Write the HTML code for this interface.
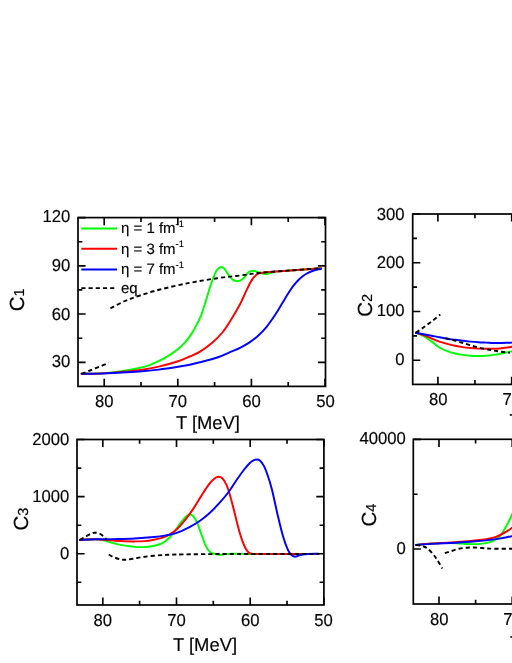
<!DOCTYPE html>
<html><head><meta charset="utf-8"><title>fig</title>
<style>
html,body{margin:0;padding:0;background:#fff;}
body{width:512px;height:663px;overflow:hidden;position:relative;}
svg{position:absolute;left:0;top:0;}
text{font-family:"Liberation Sans",sans-serif;fill:#000;text-rendering:geometricPrecision;filter:grayscale(1);stroke:#000;stroke-width:0.15px;}
.tl{font-size:17.3px;}
.ti{font-size:18.4px;}
.lg{font-size:15px;}
</style></head><body>
<svg width="512" height="663" viewBox="0 0 512 663">
<rect x="0" y="0" width="512" height="663" fill="#fff"/>
<path d="M81.60,373.80 C84.67,373.75 93.68,373.88 100.00,373.50 C106.32,373.12 112.98,372.42 119.50,371.50 C126.02,370.58 134.22,369.03 139.10,368.00 C143.98,366.97 145.55,366.43 148.80,365.30 C152.05,364.17 155.33,362.77 158.60,361.20 C161.87,359.63 165.15,357.92 168.40,355.90 C171.65,353.88 175.18,351.53 178.10,349.10 C181.02,346.67 183.62,343.92 185.90,341.30 C188.18,338.68 190.00,336.18 191.80,333.40 C193.60,330.62 195.17,327.57 196.70,324.60 C198.23,321.63 199.38,319.83 201.00,315.60 C202.62,311.37 204.82,304.22 206.40,299.20 C207.98,294.18 209.13,289.60 210.50,285.50 C211.87,281.40 213.47,277.23 214.60,274.60 C215.73,271.97 216.25,270.97 217.30,269.70 C218.35,268.43 219.75,267.18 220.90,267.00 C222.05,266.82 222.97,267.33 224.20,268.60 C225.43,269.87 226.93,272.78 228.30,274.60 C229.67,276.42 230.95,278.40 232.40,279.50 C233.85,280.60 235.40,281.20 237.00,281.20 C238.60,281.20 240.50,280.50 242.00,279.50 C243.50,278.50 244.87,276.42 246.00,275.20 C247.13,273.98 247.60,272.93 248.80,272.20 C250.00,271.47 251.88,270.88 253.20,270.80 C254.52,270.72 255.38,271.27 256.70,271.70 C258.02,272.13 259.48,273.02 261.10,273.40 C262.72,273.78 264.65,274.12 266.40,274.00 C268.15,273.88 269.85,273.13 271.60,272.70 C273.35,272.27 274.67,271.70 276.90,271.40 C279.13,271.10 281.15,271.17 285.00,270.90 C288.85,270.63 294.00,270.23 300.00,269.80 C306.00,269.37 317.50,268.55 321.00,268.30" fill="none" stroke="#00ff00" stroke-width="1.95" stroke-linecap="round"/>
<path d="M81.60,373.80 C84.67,373.75 93.68,373.78 100.00,373.50 C106.32,373.22 112.98,372.65 119.50,372.10 C126.02,371.55 132.58,371.12 139.10,370.20 C145.62,369.28 152.10,368.10 158.60,366.60 C165.10,365.10 172.90,362.88 178.10,361.20 C183.30,359.52 186.15,358.10 189.80,356.50 C193.45,354.90 196.32,353.85 200.00,351.60 C203.68,349.35 208.10,346.27 211.90,343.00 C215.70,339.73 219.62,335.88 222.80,332.00 C225.98,328.12 228.13,324.33 231.00,319.70 C233.87,315.07 237.62,308.68 240.00,304.20 C242.38,299.72 243.55,296.47 245.30,292.80 C247.05,289.13 249.03,284.83 250.50,282.20 C251.97,279.57 252.92,278.37 254.10,277.00 C255.28,275.63 256.43,274.70 257.60,274.00 C258.77,273.30 259.70,273.08 261.10,272.80 C262.50,272.52 262.85,272.56 266.00,272.30 C269.15,272.04 274.33,271.67 280.00,271.25 C285.67,270.83 293.17,270.29 300.00,269.80 C306.83,269.31 317.50,268.55 321.00,268.30" fill="none" stroke="#ff0000" stroke-width="1.95" stroke-linecap="round"/>
<path d="M81.60,373.80 C84.67,373.77 93.68,373.78 100.00,373.60 C106.32,373.42 112.98,373.05 119.50,372.70 C126.02,372.35 132.58,372.02 139.10,371.50 C145.62,370.98 152.10,370.38 158.60,369.60 C165.10,368.82 172.90,367.62 178.10,366.80 C183.30,365.98 186.15,365.45 189.80,364.70 C193.45,363.95 195.42,363.50 200.00,362.30 C204.58,361.10 212.13,359.27 217.30,357.50 C222.47,355.73 227.22,353.32 231.00,351.70 C234.78,350.08 237.03,349.27 240.00,347.80 C242.97,346.33 245.87,344.83 248.80,342.90 C251.73,340.97 254.67,338.83 257.60,336.20 C260.53,333.57 263.47,330.67 266.40,327.10 C269.33,323.53 272.57,318.77 275.20,314.80 C277.83,310.83 280.15,306.67 282.20,303.30 C284.25,299.93 285.75,297.38 287.50,294.60 C289.25,291.82 290.95,288.95 292.70,286.60 C294.45,284.25 296.23,282.32 298.00,280.50 C299.77,278.68 301.53,277.02 303.30,275.70 C305.07,274.38 306.85,273.47 308.60,272.60 C310.35,271.73 312.20,271.03 313.80,270.50 C315.40,269.97 316.97,269.67 318.20,269.40 C319.43,269.13 320.70,268.98 321.20,268.90" fill="none" stroke="#0000ff" stroke-width="1.95" stroke-linecap="round"/>
<path d="M81.60,373.80 C83.00,373.25 86.93,371.72 90.00,370.50 C93.07,369.28 96.92,367.78 100.00,366.50 C103.08,365.22 107.08,363.42 108.50,362.80" fill="none" stroke="#000000" stroke-width="1.9" stroke-dasharray="4.2,3"/>
<path d="M110.40,308.20 C112.83,307.00 120.07,303.12 125.00,301.00 C129.93,298.88 134.17,297.42 140.00,295.50 C145.83,293.58 151.67,291.62 160.00,289.50 C168.33,287.38 180.45,284.68 190.00,282.80 C199.55,280.92 208.97,279.42 217.30,278.20 C225.63,276.98 232.70,276.42 240.00,275.50 C247.30,274.58 252.77,273.53 261.10,272.70 C269.43,271.87 280.02,271.25 290.00,270.50 C299.98,269.75 315.83,268.58 321.00,268.20" fill="none" stroke="#000000" stroke-width="1.9" stroke-dasharray="4.2,3"/>
<rect x="78.00" y="217.60" width="247.50" height="168.80" fill="none" stroke="#000" stroke-width="1.7"/>
<path d="M104.20,386.40v-7.60 M104.20,217.60v7.60 M177.80,386.40v-7.60 M177.80,217.60v7.60 M251.40,386.40v-7.60 M251.40,217.60v7.60 M325.00,386.40v-7.60 M325.00,217.60v7.60 M141.00,386.40v-4.30 M141.00,217.60v4.30 M214.60,386.40v-4.30 M214.60,217.60v4.30 M288.20,386.40v-4.30 M288.20,217.60v4.30 M78.00,217.60h7.60 M325.50,217.60h-7.60 M78.00,265.80h7.60 M325.50,265.80h-7.60 M78.00,314.00h7.60 M325.50,314.00h-7.60 M78.00,362.30h7.60 M325.50,362.30h-7.60 M78.00,241.70h4.30 M325.50,241.70h-4.30 M78.00,289.90h4.30 M325.50,289.90h-4.30 M78.00,338.20h4.30 M325.50,338.20h-4.30" fill="none" stroke="#000" stroke-width="1.65"/>
<text class="tl" transform="translate(104.20,407.10) scale(0.965,1)" text-anchor="middle">80</text>
<text class="tl" transform="translate(177.80,407.10) scale(0.965,1)" text-anchor="middle">70</text>
<text class="tl" transform="translate(251.40,407.10) scale(0.965,1)" text-anchor="middle">60</text>
<text class="tl" transform="translate(325.50,407.10) scale(0.965,1)" text-anchor="middle">50</text>
<text class="tl" transform="translate(70.40,222.25) scale(0.965,1)" text-anchor="end">120</text>
<text class="tl" transform="translate(70.40,270.75) scale(0.965,1)" text-anchor="end">90</text>
<text class="tl" transform="translate(70.40,319.65) scale(0.965,1)" text-anchor="end">60</text>
<text class="tl" transform="translate(70.40,367.15) scale(0.965,1)" text-anchor="end">30</text>
<text class="ti" x="175.90" y="428.60">T [MeV]</text>
<text class="ti" transform="translate(24.20,311.30) rotate(-90)" x="0" y="0" style="font-size:20.5px">C<tspan style="font-size:14.5px">1</tspan></text>
<path d="M415.90,332.80 C417.20,333.35 421.10,334.67 423.70,336.10 C426.30,337.53 428.90,339.50 431.50,341.40 C434.10,343.30 436.68,345.87 439.30,347.50 C441.92,349.13 444.58,350.20 447.20,351.20 C449.82,352.20 452.40,352.88 455.00,353.50 C457.60,354.12 460.20,354.53 462.80,354.90 C465.40,355.27 468.00,355.53 470.60,355.70 C473.20,355.87 475.80,355.90 478.40,355.90 C481.00,355.90 483.60,355.87 486.20,355.70 C488.80,355.53 491.40,355.27 494.00,354.90 C496.60,354.53 499.52,353.93 501.80,353.50 C504.08,353.07 506.00,352.68 507.70,352.30 C509.40,351.92 510.28,351.67 512.00,351.20 C513.72,350.73 517.00,349.78 518.00,349.50" fill="none" stroke="#00ff00" stroke-width="1.95" stroke-linecap="round"/>
<path d="M415.90,332.80 C417.20,333.20 421.10,334.25 423.70,335.20 C426.30,336.15 428.90,337.43 431.50,338.50 C434.10,339.57 436.68,340.70 439.30,341.60 C441.92,342.50 444.58,343.22 447.20,343.90 C449.82,344.58 452.40,345.17 455.00,345.70 C457.60,346.23 460.20,346.72 462.80,347.10 C465.40,347.48 468.00,347.75 470.60,348.00 C473.20,348.25 475.80,348.47 478.40,348.60 C481.00,348.73 483.60,348.77 486.20,348.80 C488.80,348.83 491.40,348.90 494.00,348.80 C496.60,348.70 499.52,348.42 501.80,348.20 C504.08,347.98 506.00,347.75 507.70,347.50 C509.40,347.25 510.28,347.03 512.00,346.70 C513.72,346.37 517.00,345.70 518.00,345.50" fill="none" stroke="#ff0000" stroke-width="1.95" stroke-linecap="round"/>
<path d="M415.90,332.80 C417.20,333.03 421.10,333.72 423.70,334.20 C426.30,334.68 428.90,335.18 431.50,335.70 C434.10,336.22 436.68,336.80 439.30,337.30 C441.92,337.80 444.58,338.28 447.20,338.70 C449.82,339.12 452.40,339.45 455.00,339.80 C457.60,340.15 460.20,340.50 462.80,340.80 C465.40,341.10 468.00,341.37 470.60,341.60 C473.20,341.83 475.80,342.03 478.40,342.20 C481.00,342.37 483.60,342.47 486.20,342.60 C488.80,342.73 491.40,342.93 494.00,343.00 C496.60,343.07 499.52,343.03 501.80,343.00 C504.08,342.97 506.00,342.87 507.70,342.80 C509.40,342.73 510.28,342.68 512.00,342.60 C513.72,342.52 517.00,342.35 518.00,342.30" fill="none" stroke="#0000ff" stroke-width="1.95" stroke-linecap="round"/>
<path d="M415.90,332.80 C417.20,331.88 421.10,329.18 423.70,327.30 C426.30,325.42 428.73,323.62 431.50,321.50 C434.27,319.38 438.83,315.75 440.30,314.60" fill="none" stroke="#000000" stroke-width="1.9" stroke-dasharray="4.2,3"/>
<path d="M445.20,338.10 C446.83,338.52 452.07,339.78 455.00,340.60 C457.93,341.42 460.20,342.22 462.80,343.00 C465.40,343.78 468.00,344.55 470.60,345.30 C473.20,346.05 475.80,346.85 478.40,347.50 C481.00,348.15 483.60,348.68 486.20,349.20 C488.80,349.72 491.40,350.17 494.00,350.60 C496.60,351.03 499.13,351.43 501.80,351.80 C504.47,352.17 508.63,352.63 510.00,352.80" fill="none" stroke="#000000" stroke-width="1.9" stroke-dasharray="4.2,3"/>
<rect x="412.70" y="214.00" width="117.30" height="170.40" fill="none" stroke="#000" stroke-width="1.7"/>
<path d="M437.90,384.40v-7.60 M437.90,214.00v7.60 M511.70,384.40v-7.60 M511.70,214.00v7.60 M474.95,384.40v-4.30 M474.95,214.00v4.30 M412.70,214.00h7.60 M412.70,262.73h7.60 M412.70,311.47h7.60 M412.70,360.20h7.60 M412.70,238.37h4.30 M412.70,287.10h4.30 M412.70,335.83h4.30" fill="none" stroke="#000" stroke-width="1.65"/>
<text class="tl" transform="translate(438.20,404.70) scale(0.965,1)" text-anchor="middle">80</text>
<text class="tl" transform="translate(507.20,404.70) scale(0.965,1)" text-anchor="middle">7</text>
<text class="tl" transform="translate(404.50,219.55) scale(0.965,1)" text-anchor="end">300</text>
<text class="tl" transform="translate(404.50,268.28) scale(0.965,1)" text-anchor="end">200</text>
<text class="tl" transform="translate(404.50,316.05) scale(0.965,1)" text-anchor="end">100</text>
<text class="tl" transform="translate(404.50,365.45) scale(0.965,1)" text-anchor="end">0</text>
<text class="ti" x="509.60" y="427.20">T [MeV]</text>
<text class="ti" transform="translate(372.40,316.70) rotate(-90)" x="0" y="0" style="font-size:20.5px">C<tspan style="font-size:14.5px">2</tspan></text>
<path d="M79.90,539.90 C82.50,539.80 91.60,539.23 95.50,539.30 C99.40,539.37 100.68,539.75 103.30,540.30 C105.92,540.85 108.58,541.88 111.20,542.60 C113.82,543.32 116.40,544.05 119.00,544.60 C121.60,545.15 124.20,545.52 126.80,545.90 C129.40,546.28 132.00,546.70 134.60,546.90 C137.20,547.10 139.80,547.17 142.40,547.10 C145.00,547.03 147.60,546.88 150.20,546.50 C152.80,546.12 155.72,545.52 158.00,544.80 C160.28,544.08 161.94,543.45 163.90,542.20 C165.86,540.95 168.12,538.92 169.75,537.30 C171.38,535.68 172.66,533.78 173.70,532.50 C174.74,531.22 174.67,531.47 176.00,529.60 C177.33,527.73 179.93,523.57 181.70,521.30 C183.47,519.03 185.20,517.12 186.60,516.00 C188.00,514.88 188.97,514.53 190.10,514.60 C191.23,514.67 192.20,514.97 193.40,516.40 C194.60,517.83 195.98,520.27 197.30,523.20 C198.62,526.13 199.98,530.42 201.30,534.00 C202.62,537.58 203.90,541.83 205.20,544.70 C206.50,547.57 207.80,549.73 209.10,551.20 C210.40,552.67 211.53,552.95 213.00,553.50 C214.47,554.05 216.43,554.30 217.90,554.50 C219.37,554.70 220.35,554.77 221.80,554.70 C223.25,554.63 224.82,554.25 226.60,554.10 C228.38,553.95 228.60,553.83 232.50,553.80 C236.40,553.77 235.67,553.88 250.00,553.90 C264.33,553.92 307.08,553.90 318.50,553.90" fill="none" stroke="#00ff00" stroke-width="1.95" stroke-linecap="round"/>
<path d="M79.90,539.90 C82.50,539.80 91.27,539.30 95.50,539.30 C99.73,539.30 102.03,539.67 105.30,539.90 C108.57,540.13 111.85,540.48 115.10,540.70 C118.35,540.93 121.55,541.13 124.80,541.25 C128.05,541.37 131.33,541.42 134.60,541.40 C137.87,541.38 141.15,541.38 144.40,541.10 C147.65,540.82 151.18,540.23 154.10,539.70 C157.02,539.17 159.29,538.78 161.90,537.90 C164.51,537.02 167.23,535.88 169.75,534.40 C172.27,532.92 174.36,531.52 177.00,529.00 C179.64,526.48 182.87,522.70 185.60,519.30 C188.33,515.90 190.78,512.50 193.40,508.60 C196.02,504.70 198.68,499.97 201.30,495.90 C203.92,491.83 207.00,487.03 209.10,484.20 C211.20,481.37 212.38,480.13 213.90,478.90 C215.42,477.67 216.80,476.90 218.20,476.80 C219.60,476.70 220.90,476.90 222.30,478.30 C223.70,479.70 225.23,482.10 226.60,485.20 C227.97,488.30 229.18,492.35 230.50,496.90 C231.82,501.45 233.18,507.30 234.50,512.50 C235.82,517.70 237.10,523.38 238.40,528.10 C239.70,532.82 241.00,537.22 242.30,540.80 C243.60,544.38 245.07,547.58 246.20,549.60 C247.33,551.62 248.13,552.20 249.10,552.90 C250.07,553.60 250.18,553.63 252.00,553.80 C253.82,553.97 248.92,553.88 260.00,553.90 C271.08,553.92 308.75,553.90 318.50,553.90" fill="none" stroke="#ff0000" stroke-width="1.95" stroke-linecap="round"/>
<path d="M79.90,539.90 C82.50,539.80 89.63,539.43 95.50,539.30 C101.37,539.17 108.58,539.23 115.10,539.10 C121.62,538.97 128.10,538.85 134.60,538.50 C141.10,538.15 148.90,537.52 154.10,537.00 C159.30,536.48 162.15,536.03 165.80,535.40 C169.45,534.77 172.05,534.58 176.00,533.20 C179.95,531.82 185.62,529.08 189.50,527.10 C193.38,525.12 196.03,523.57 199.30,521.30 C202.57,519.03 205.85,516.43 209.10,513.50 C212.35,510.57 215.55,507.28 218.80,503.70 C222.05,500.12 225.67,495.90 228.60,492.00 C231.53,488.10 233.80,484.05 236.40,480.30 C239.00,476.55 241.92,472.43 244.20,469.50 C246.48,466.57 248.47,464.25 250.10,462.70 C251.73,461.15 252.93,460.72 254.00,460.20 C255.07,459.68 255.53,459.57 256.50,459.60 C257.47,459.63 258.59,459.40 259.80,460.40 C261.01,461.40 262.43,463.10 263.75,465.60 C265.07,468.10 266.32,471.38 267.70,475.40 C269.07,479.42 270.37,483.22 272.00,489.70 C273.63,496.18 275.67,506.55 277.50,514.30 C279.33,522.05 281.27,530.28 283.00,536.20 C284.73,542.12 286.45,546.62 287.90,549.80 C289.35,552.98 290.47,554.15 291.70,555.30 C292.93,556.45 294.02,556.70 295.30,556.70 C296.58,556.70 297.82,555.72 299.40,555.30 C300.98,554.88 301.62,554.47 304.80,554.20 C307.98,553.93 316.22,553.78 318.50,553.70" fill="none" stroke="#0000ff" stroke-width="1.95" stroke-linecap="round"/>
<path d="M79.90,539.90 C80.88,539.32 83.85,537.48 85.80,536.40 C87.75,535.32 89.98,534.02 91.60,533.40 C93.22,532.78 94.03,532.60 95.50,532.70 C96.97,532.80 98.77,533.07 100.40,534.00 C102.03,534.93 104.32,537.42 105.30,538.30 C106.28,539.18 106.13,539.13 106.30,539.30" fill="none" stroke="#000000" stroke-width="1.9" stroke-dasharray="4.2,3"/>
<path d="M108.80,554.50 C109.52,554.90 111.40,556.15 113.10,556.90 C114.80,557.65 117.05,558.52 119.00,559.00 C120.95,559.48 122.53,559.83 124.80,559.80 C127.07,559.77 129.67,559.25 132.60,558.80 C135.53,558.35 138.82,557.62 142.40,557.10 C145.98,556.58 150.20,556.07 154.10,555.70 C158.00,555.33 162.15,555.10 165.80,554.90 C169.45,554.70 168.63,554.63 176.00,554.50 C183.37,554.37 197.67,554.18 210.00,554.10 C222.33,554.02 231.92,554.03 250.00,554.00 C268.08,553.97 307.08,553.92 318.50,553.90" fill="none" stroke="#000000" stroke-width="1.9" stroke-dasharray="4.2,3"/>
<rect x="77.00" y="439.50" width="246.90" height="165.50" fill="none" stroke="#000" stroke-width="1.7"/>
<path d="M102.80,605.00v-7.60 M102.80,439.50v7.60 M176.50,605.00v-7.60 M176.50,439.50v7.60 M250.20,605.00v-7.60 M250.20,439.50v7.60 M323.90,605.00v-7.60 M323.90,439.50v7.60 M139.60,605.00v-4.30 M139.60,439.50v4.30 M213.30,605.00v-4.30 M213.30,439.50v4.30 M287.00,605.00v-4.30 M287.00,439.50v4.30 M77.00,439.50h7.60 M323.90,439.50h-7.60 M77.00,496.60h7.60 M323.90,496.60h-7.60 M77.00,553.70h7.60 M323.90,553.70h-7.60 M77.00,468.10h4.30 M323.90,468.10h-4.30 M77.00,525.20h4.30 M323.90,525.20h-4.30 M77.00,582.20h4.30 M323.90,582.20h-4.30" fill="none" stroke="#000" stroke-width="1.65"/>
<text class="tl" transform="translate(102.80,625.60) scale(0.965,1)" text-anchor="middle">80</text>
<text class="tl" transform="translate(176.50,625.60) scale(0.965,1)" text-anchor="middle">70</text>
<text class="tl" transform="translate(250.20,625.60) scale(0.965,1)" text-anchor="middle">60</text>
<text class="tl" transform="translate(323.40,625.60) scale(0.965,1)" text-anchor="middle">50</text>
<text class="tl" transform="translate(69.40,445.05) scale(0.965,1)" text-anchor="end">2000</text>
<text class="tl" transform="translate(69.40,502.15) scale(0.965,1)" text-anchor="end">1000</text>
<text class="tl" transform="translate(69.40,559.25) scale(0.965,1)" text-anchor="end">0</text>
<text class="ti" x="173.00" y="650.80">T [MeV]</text>
<text class="ti" transform="translate(28.10,530.60) rotate(-90)" x="0" y="0" style="font-size:20.5px">C<tspan style="font-size:14.5px">3</tspan></text>
<path d="M415.90,544.90 C418.50,544.67 427.27,543.87 431.50,543.55 C435.73,543.23 438.03,543.09 441.30,543.00 C444.57,542.91 447.85,542.91 451.10,543.00 C454.35,543.09 457.55,543.37 460.80,543.55 C464.05,543.73 467.33,544.04 470.60,544.10 C473.87,544.16 477.47,544.15 480.40,543.90 C483.33,543.65 485.93,543.18 488.20,542.60 C490.47,542.02 492.22,541.32 494.00,540.40 C495.78,539.48 497.43,538.47 498.90,537.10 C500.37,535.73 501.50,534.15 502.80,532.20 C504.10,530.25 505.55,527.52 506.70,525.40 C507.85,523.28 508.82,521.30 509.70,519.50 C510.58,517.70 510.95,516.85 512.00,514.60 C513.05,512.35 515.33,507.43 516.00,506.00" fill="none" stroke="#00ff00" stroke-width="1.95" stroke-linecap="round"/>
<path d="M415.90,544.90 C418.50,544.67 425.63,543.97 431.50,543.55 C437.37,543.13 444.58,542.82 451.10,542.40 C457.62,541.98 465.40,541.43 470.60,541.00 C475.80,540.57 479.05,540.22 482.30,539.80 C485.55,539.38 487.82,538.98 490.10,538.50 C492.38,538.02 494.05,537.62 496.00,536.90 C497.95,536.18 499.85,535.23 501.80,534.20 C503.75,533.17 506.00,531.75 507.70,530.70 C509.40,529.65 510.28,529.02 512.00,527.90 C513.72,526.78 517.00,524.65 518.00,524.00" fill="none" stroke="#ff0000" stroke-width="1.95" stroke-linecap="round"/>
<path d="M415.90,544.90 C418.50,544.73 425.63,544.22 431.50,543.90 C437.37,543.58 444.58,543.35 451.10,543.00 C457.62,542.65 464.75,542.23 470.60,541.80 C476.45,541.37 481.65,540.88 486.20,540.40 C490.75,539.92 494.64,539.38 497.90,538.90 C501.16,538.42 503.40,537.97 505.75,537.50 C508.10,537.03 509.96,536.57 512.00,536.10 C514.04,535.63 517.00,534.93 518.00,534.70" fill="none" stroke="#0000ff" stroke-width="1.95" stroke-linecap="round"/>
<path d="M415.90,544.90 C416.88,545.07 420.02,545.40 421.80,545.90 C423.58,546.40 424.98,546.83 426.60,547.90 C428.22,548.97 429.87,550.52 431.50,552.30 C433.13,554.08 434.60,555.92 436.40,558.60 C438.20,561.28 441.32,566.77 442.30,568.40" fill="none" stroke="#000000" stroke-width="1.9" stroke-dasharray="4.2,3"/>
<path d="M444.80,553.10 C445.85,552.78 448.75,551.92 451.10,551.20 C453.45,550.48 456.30,549.38 458.90,548.80 C461.50,548.22 464.10,547.92 466.70,547.70 C469.30,547.48 471.90,547.45 474.50,547.50 C477.10,547.55 479.70,547.82 482.30,548.00 C484.90,548.18 485.15,548.47 490.10,548.60 C495.05,548.73 507.02,548.77 512.00,548.80 C516.98,548.83 518.67,548.80 520.00,548.80" fill="none" stroke="#000000" stroke-width="1.9" stroke-dasharray="4.2,3"/>
<rect x="413.30" y="439.30" width="116.70" height="164.70" fill="none" stroke="#000" stroke-width="1.7"/>
<path d="M439.00,604.00v-7.60 M439.00,439.30v7.60 M512.20,604.00v-7.60 M512.20,439.30v7.60 M475.60,604.00v-4.30 M475.60,439.30v4.30 M413.30,439.30h7.60 M413.30,549.00h7.60 M413.30,494.20h4.30" fill="none" stroke="#000" stroke-width="1.65"/>
<text class="tl" transform="translate(439.20,624.70) scale(0.965,1)" text-anchor="middle">80</text>
<text class="tl" transform="translate(508.00,624.70) scale(0.965,1)" text-anchor="middle">7</text>
<text class="tl" transform="translate(405.90,443.95) scale(0.965,1)" text-anchor="end">40000</text>
<text class="tl" transform="translate(405.90,553.65) scale(0.965,1)" text-anchor="end">0</text>
<text class="ti" x="510.00" y="649.00">T [MeV]</text>
<text class="ti" transform="translate(375.90,526.50) rotate(-90)" x="0" y="0" style="font-size:20.5px">C<tspan style="font-size:14.5px">4</tspan></text>
<path d="M81.3,228.40H117" stroke="#00ff00" stroke-width="1.95" fill="none"/>
<text class="lg" x="121" y="233.20">η = 1 fm<tspan style="font-size:9.5px" dy="-6.5">-1</tspan></text>
<path d="M81.3,248.80H117" stroke="#ff0000" stroke-width="1.95" fill="none"/>
<text class="lg" x="121" y="253.60">η = 3 fm<tspan style="font-size:9.5px" dy="-6.5">-1</tspan></text>
<path d="M81.3,269.40H117" stroke="#0000ff" stroke-width="1.95" fill="none"/>
<text class="lg" x="121" y="274.20">η = 7 fm<tspan style="font-size:9.5px" dy="-6.5">-1</tspan></text>
<path d="M81.3,288.1H117" stroke="#000" stroke-width="1.9" stroke-dasharray="4.2,3" fill="none"/>
<text class="lg" x="121" y="292.5">eq</text>
</svg></body></html>
